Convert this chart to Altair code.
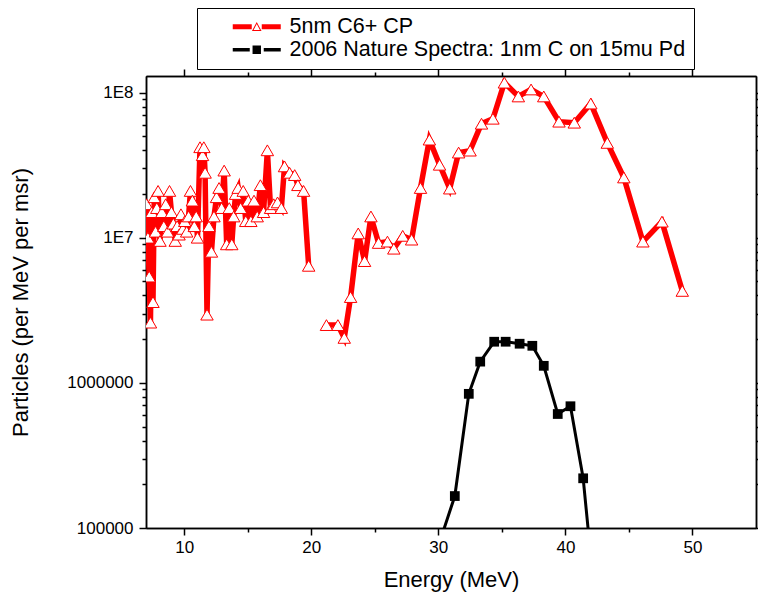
import altair as alt
import pandas as pd

# ---------------- data ----------------
red_energy_low = [7.05, 7.15, 7.25, 7.35, 7.45, 7.55, 7.65, 7.75, 7.85, 7.95,
                  8.10, 8.25, 8.40, 8.55, 8.70, 8.85, 9.00, 9.15, 9.30, 9.45,
                  9.60, 9.75, 9.90, 10.05, 10.20, 10.35, 10.50, 10.65, 10.80, 10.95,
                  11.05, 11.25, 11.45, 11.55, 11.65, 11.80, 11.95, 12.15, 12.35, 12.55,
                  12.75, 12.95, 13.15, 13.35, 13.55, 13.75, 13.90, 14.05, 14.25, 14.45,
                  14.65, 14.85, 15.05, 15.25, 15.50, 15.75, 16.00, 16.25, 16.55, 16.80,
                  17.05, 17.35, 17.65, 17.90, 18.30, 18.70, 18.95, 19.40, 19.80]
red_counts_low = [1.7e7, 1.0e7, 5.4e6, 2.6e6, 1.5e7, 3.6e6, 1.9e7, 1.1e7, 1.6e7, 2.1e7,
                  9.5e6, 1.5e7, 1.2e7, 1.7e7, 1.1e7, 2.1e7, 1.5e7, 1.25e7, 9.5e6, 1.2e7,
                  1.05e7, 1.45e7, 1.15e7, 1.3e7, 1.1e7, 1.4e7, 2.1e7, 1.8e7, 1.2e7, 1.4e7,
                  1.0e7, 4.2e7, 3.7e7, 4.2e7, 2.8e7, 2.95e6, 1.2e7, 8.0e6, 1.4e7, 1.9e7,
                  2.2e7, 1.6e7, 2.9e7, 9.0e6, 1.6e7, 9.0e6, 1.4e7, 2.0e7, 2.2e7, 1.6e7,
                  2.1e7, 1.3e7, 1.8e7, 1.3e7, 1.8e7, 1.4e7, 2.3e7, 1.5e7, 4.0e7, 1.6e7,
                  1.7e7, 1.75e7, 1.6e7, 3.1e7, 2.8e7, 2.7e7, 2.3e7, 2.1e7, 6.4e6]
red_energy_high = [21.2, 22.1, 22.6, 23.1, 23.7, 24.2, 24.7, 25.3, 26.0, 26.5,
                   27.2, 27.9, 28.6, 29.3, 30.1, 30.9, 31.6, 32.5, 33.4, 34.3,
                   35.2, 36.3, 37.3, 38.3, 39.5, 40.7, 42.0, 43.3, 44.6, 46.1,
                   47.6, 49.2]
red_counts_high = [2.5e6, 2.5e6, 2.04e6, 3.9e6, 1.07e7, 6.9e6, 1.4e7, 9.2e6, 9.4e6, 8.4e6,
                   1.03e7, 9.7e6, 2.2e7, 4.74e7, 3.18e7, 2.18e7, 3.86e7, 3.98e7, 6.1e7, 6.6e7,
                   1.17e8, 9.4e7, 1.05e8, 9.4e7, 6.3e7, 6.2e7, 8.4e7, 4.5e7, 2.6e7, 9.4e6,
                   1.29e7, 4.3e6]
black_energy = [30.3, 31.3, 32.4, 33.3, 34.4, 35.3, 36.4, 37.4, 38.3, 39.4, 40.4, 41.4, 42.4]
black_counts = [9.0e4, 1.66e5, 8.4e5, 1.4e6, 1.92e6, 1.92e6, 1.86e6, 1.8e6, 1.31e6,
                6.1e5, 6.9e5, 2.2e5, 2.8e4]
series_names = ["5nm C6+ CP", "2006 Nature Spectra: 1nm C on 15mu Pd"]

x_major = [10, 20, 30, 40, 50]
x_minor = [15, 25, 35, 45]
y_major = [100000, 1000000, 10000000, 100000000]
y_minor = [m * d for d in (100000, 1000000, 10000000) for m in range(2, 10)]
y_label_expr = ("datum.value == 100000000 ? '1E8' : datum.value == 10000000 ? '1E7' : "
                "datum.value == 1000000 ? '1000000' : datum.value == 100000 ? '100000' : ''")

red = pd.DataFrame({
    "E": red_energy_low + red_energy_high,
    "N": red_counts_low + red_counts_high,
    "seg": [0] * len(red_energy_low) + [1] * len(red_energy_high),
})
red["i"] = range(len(red))
black = pd.DataFrame({"E": black_energy, "N": black_counts})
black["i"] = range(len(black))
legend_df = pd.DataFrame({"E": [100, 100], "N": [1e6, 1e6], "series": series_names})

# ---------------- style ----------------
FONT = "Liberation Sans"
xscale = alt.Scale(domain=[7, 55], nice=False, zero=False)
yscale = alt.Scale(type="log", domain=[100000, 130000000], nice=False)

common = dict(grid=False, domainColor="black", domainWidth=1.5, tickColor="black",
              tickWidth=1.5, labelFont=FONT, labelColor="black", labelFontSize=17,
              titleFont=FONT, titleFontSize=22, titleFontWeight="normal",
              titleColor="black", labelOverlap=False, labelFlush=False, labelBound=False)


def ax(orient, values, size, labels=False, title=None, **kw):
    d = dict(common)
    d.update(kw)
    return alt.Axis(orient=orient, values=values, tickSize=size, labels=labels,
                    title=title, **d)


x_bottom = ax("bottom", x_major, 7, labels=True, title="Energy (MeV)",
              labelPadding=4, titlePadding=14)
y_left = ax("left", y_major, 7, labels=True, title="Particles (per MeV per msr)",
            labelExpr=y_label_expr, labelPadding=6, titlePadding=34)
x_bottom_minor = ax("bottom", x_minor, 4)
y_left_minor = ax("left", y_minor, 4)
x_top = ax("top", x_major, 7)
y_right = ax("right", y_major, 7)
x_top_minor = ax("top", x_minor, 4)
y_right_minor = ax("right", y_minor, 4)

red_line = alt.Chart(red).mark_line(color="#ff0000", strokeWidth=5.5, clip=True).encode(
    x=alt.X("E:Q", scale=xscale, axis=x_bottom),
    y=alt.Y("N:Q", scale=yscale, axis=y_left),
    detail="seg:N",
    order="i:Q",
)
red_pts = alt.Chart(red).mark_point(shape="triangle-up", filled=True, fill="white",
                                    stroke="#ff0000", strokeWidth=1, size=155,
                                    opacity=1, clip=True).encode(
    x=alt.X("E:Q", scale=xscale, axis=x_bottom_minor),
    y=alt.Y("N:Q", scale=yscale, axis=y_left_minor),
)
black_line = alt.Chart(black).mark_line(color="black", strokeWidth=3, clip=True).encode(
    x=alt.X("E:Q", scale=xscale, axis=x_top),
    y=alt.Y("N:Q", scale=yscale, axis=y_right),
    order="i:Q",
)
black_pts = alt.Chart(black).mark_point(shape="square", filled=True, color="black",
                                        size=95, opacity=1, clip=True).encode(
    x=alt.X("E:Q", scale=xscale, axis=x_top_minor),
    y=alt.Y("N:Q", scale=yscale, axis=y_right_minor),
)

red_symbol = ("M1.7,-0.25H3.6V0.25H1.7Z M4.6,-0.25H6.5V0.25H4.6Z "
              "M3.62,0.42L4.1,-0.48L4.58,0.42Z M3.786,0.32L4.414,0.32L4.1,-0.267Z")
black_symbol = ("M1.7,-0.17H3.4V0.17H1.7Z M4.8,-0.17H6.5V0.17H4.8Z "
                "M3.68,-0.42H4.52V0.42H3.68Z")

legend = alt.Legend(orient="none", legendX=51, legendY=-68, title=None,
                    padding=8, fillColor="white", strokeColor="black",
                    labelFont=FONT, labelFontSize=21.5, labelColor="black",
                    labelOffset=63, labelLimit=800, rowPadding=0,
                    symbolSize=400, symbolStrokeWidth=0)

legend_layer = alt.Chart(legend_df).mark_point(filled=True, opacity=1, clip=True).encode(
    x=alt.X("E:Q", scale=xscale, axis=None),
    y=alt.Y("N:Q", scale=yscale, axis=None),
    color=alt.Color("series:N", scale=alt.Scale(domain=series_names,
                                                range=["#ff0000", "black"]),
                    legend=legend),
    shape=alt.Shape("series:N", scale=alt.Scale(domain=series_names,
                                                range=[red_symbol, black_symbol]),
                    legend=legend),
)

chart = alt.layer(red_line, red_pts, black_line, black_pts, legend_layer).resolve_axis(
    x="independent", y="independent"
).properties(
    width=610, height=452,
    autosize=alt.AutoSizeParams(type="none"),
    padding={"left": 138, "top": 68, "right": 2, "bottom": 64},
).configure_view(stroke="black", strokeWidth=1.5).configure(background="white")

chart.save("out.html", embed_options={"renderer": "svg", "actions": False})
